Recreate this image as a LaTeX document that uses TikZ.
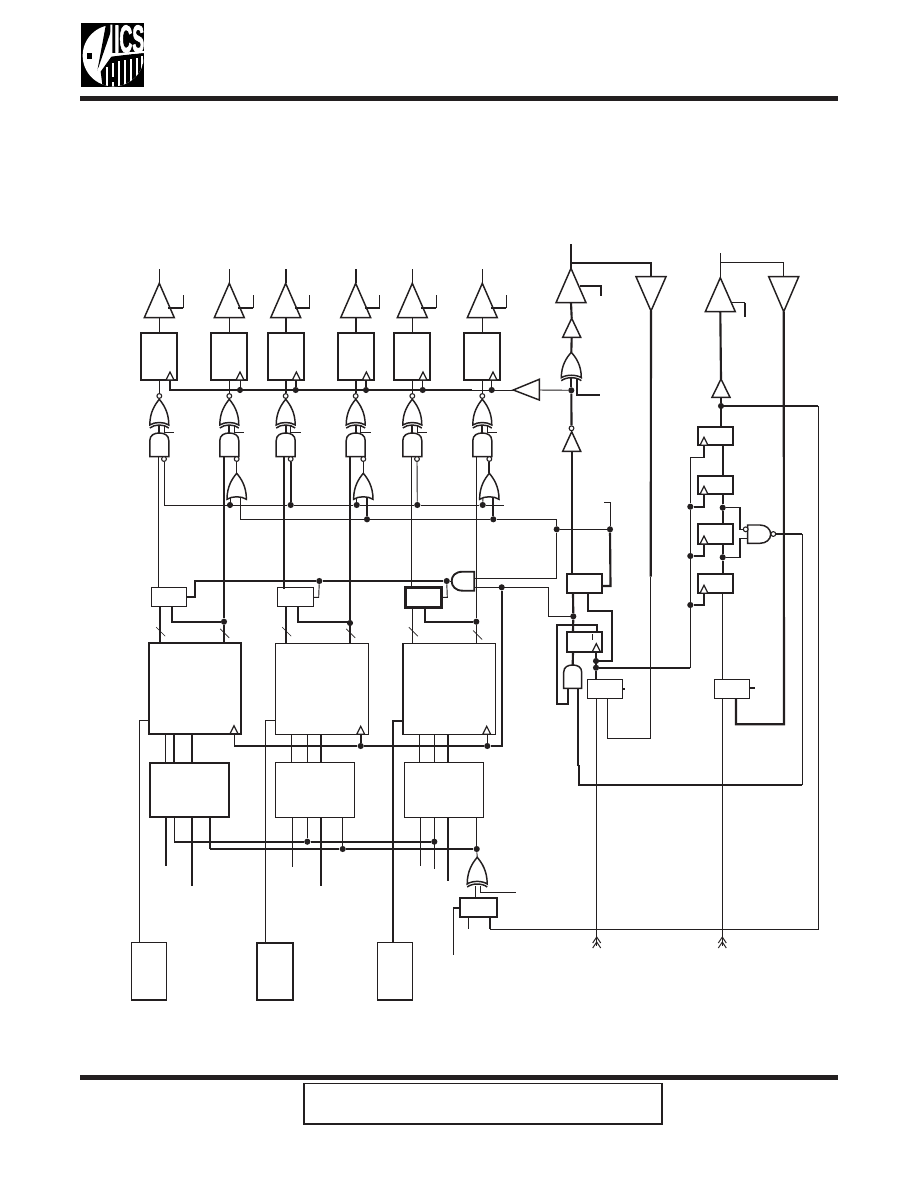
\documentclass[tikz,border=0pt]{standalone}
\usepackage{fontspec}
\setmainfont{Liberation Sans}
\newfontfamily\icsf[FakeBold=2.5]{Liberation Sans Bold}
\definecolor{ink}{HTML}{231F20}
\tikzset{
  thn/.style={line width=0.7pt,draw=ink},
  med/.style={line width=1.1pt,draw=ink},
  mdk/.style={line width=1.35pt,draw=ink},
  thk/.style={line width=1.6pt,draw=ink},
  gate/.style={line width=1.1pt,draw=ink,fill=white,line join=miter},
  boxn/.style={rectangle,inner sep=0pt,outer sep=0pt,fill=white,draw=ink},
  bub/.style={circle,draw=ink,fill=white,line width=0.8pt,inner sep=0pt,minimum size=3.6pt},
  jdot/.style={circle,fill=ink,inner sep=0pt,minimum size=4.6pt},
}
% box by corners in px
\newcommand\bx[6]{\node[boxn,#6,minimum width={((#4)-(#2))*0.75pt},minimum height={((#5)-(#3))*0.75pt}] (#1) at ({((#2)+(#4))/2},{((#3)+(#5))/2}) {};}
\newcommand\jn[3]{\node[jdot] (#1) at (#2,#3) {};}
\newcommand\tri[5]{\draw[gate] (#2,#3) -- ({#2+#5},#4) -- ({#2-#5},#4) -- cycle;
  \coordinate (#1a) at (#2,#3); \coordinate (#1b) at (#2,#4);}
\newcommand\ckt[2]{\draw[thn,fill=white,line join=miter,line width=0.9pt] (#1,{#2-8}) -- ({#1+4},#2) -- ({#1-4},#2) -- cycle;}
\newcommand\orup[5]{\draw[gate] (#2,#3) .. controls ({#2+.45*#5},{#3+.2*(#4-#3)}) and ({#2+#5},{#3+.5*(#4-#3)}) .. ({#2+#5},#4)
   .. controls ({#2+.5*#5},{#4-.13*(#4-#3)}) and ({#2-.5*#5},{#4-.13*(#4-#3)}) .. ({#2-#5},#4)
   .. controls ({#2-#5},{#3+.5*(#4-#3)}) and ({#2-.45*#5},{#3+.2*(#4-#3)}) .. cycle;
   \coordinate (#1t) at (#2,#3);}
\newcommand\xorup[5]{\orup{#1}{#2}{#3}{#4}{#5}
   \draw[gate,fill=none] ({#2+#5},{#4+3}) .. controls ({#2+.5*#5},{#4-1}) and ({#2-.5*#5},{#4-1}) .. ({#2-#5},{#4+3});}
\newcommand\andup[5]{\draw[gate] ({#2-#5},#4) -- ({#2-#5},{#3+#5*.8}) .. controls ({#2-#5},{#3+#5*.2}) and ({#2-#5*.5},#3) .. (#2,#3)
   .. controls ({#2+#5*.5},#3) and ({#2+#5},{#3+#5*.2}) .. ({#2+#5},{#3+#5*.8}) -- ({#2+#5},#4) -- cycle;
   \coordinate (#1t) at (#2,#3);}
\newcommand\chev[2]{\draw[thn] ({#1-4},{#2+6}) -- (#1,#2) -- ({#1+4},{#2+6}) ({#1-4},{#2+11}) -- (#1,{#2+5}) -- ({#1+4},{#2+11});}
\begin{document}
\begin{tikzpicture}[x=0.75pt,y=-0.75pt]
\useasboundingbox (0,0) rectangle (918,1188);
\fill[white] (0,0) rectangle (918,1188);

% ---------- header and footer
\fill[ink] (80,96) rectangle (838,101);
\fill[ink] (80,1075) rectangle (838,1079.5);
\bx{foot}{304}{1083.5}{662}{1124}{line width=1.2pt}

% ---------- logo
\begin{scope}[shift={(70,10)},x=0.25pt,y=-0.25pt]
  \fill[black] (33,40) rectangle (222,232);
  \fill[white] (130,137) circle (92);
  \fill[black] (122,40) rectangle (222,130);
  \fill[black] (108,42) -- (124,42) -- (124,60) -- (82,182) -- cycle;
  \fill[black] (50,128) rectangle (66,146);
  \begin{scope}
    \clip (130,137) circle (92);
    \fill[black] (124,140) -- (222,128) -- (222,232) -- (98,232) -- (92,185) -- cycle;
    \foreach \sx/\st in {110/172,128/158,146/152,164/150,182/147,200/143,216/138}
      \fill[white] ({\sx-3},\st) rectangle ({\sx+3},232);
    \fill[black] (122,200) rectangle (137,215);
  \end{scope}
  \draw[white,line width=1.5pt] (124,44) -- (124,134) -- (84,180);
  \draw[white,line width=1.5pt] (124,134) -- (222,126);
  \node[white,inner sep=0pt,xscale=.46] (ics) at (178,87) {\fontsize{29}{29}\selectfont\icsf ICS};
\end{scope}

% ---------- six output columns
\foreach \i/\c/\w/\bw in {1/159.3/thn/thk,2/229.3/thn/thk,3/285.7/thk/thk,4/355.7/thk/mdk,5/412.3/thn/thk,6/482.3/thn/thk}{
  \tri{ob\i}{\c}{283.3}{317.7}{15}
  \draw[\w] (\c,269) -- (ob\i a);
  \draw[thk] ({\c+9},308.3) -- ({\c+24},308.3);
  \draw[thn] ({\c+24},308.3) -- ({\c+24},295);
  \bx{q\i}{\c-18}{332.7}{\c+18}{380}{\bw}
  \draw[\w] (ob\i b) -- (q\i.north);
  \ckt{\c+10.7}{380}
  \node[bub] (nb\i) at (\c,396) {};
  \draw[\w] (q\i.south) -- (nb\i.north);
  \xorup{xn\i}{\c}{399.3}{425}{9.5}
  \draw[thn] (nb\i.south) -- (xn\i t);
  \andup{an\i}{\c}{433}{456.7}{9.5}
  \draw[thk] (\c,425) -- (an\i t);
  \draw[thn] ({\c+5},426) -- ({\c+5},432) -- ({\c+15},432);
}
% clock bus
\jn{ck2}{240}{390}\jn{ck3}{295.7}{390}\jn{ck4}{366}{390}\jn{ck5}{422.7}{390}\jn{ck6}{491.7}{390}
\coordinate (ckb) at (513.3,390);
\draw[thk] (170,380) -- (170,390) -- (472,390);
\draw[thn] (472,390) -- (ckb);
\draw[thn] (ck2) -- (240,380);
\foreach \i in {3,4}{\draw[thk] (ck\i) -- +(0,-10);}
\draw[thn] (ck5) -- +(0,-10);
\draw[thn] (ck6) -- +(0,-10);

% inverted-input bubbles and enable busses
\node[bub] (ib1) at (164,459) {};
\node[bub] (ib2) at (236.7,459) {};
\node[bub] (ib3) at (290.7,459) {};
\node[bub] (ib4) at (363.3,459) {};
\node[bub] (ib5) at (417,459) {};
\node[bub] (ib6) at (489.3,459) {};
\orup{og2}{236.7}{473.3}{499.3}{9.7}
\orup{og4}{363.3}{473.3}{499.3}{9.7}
\orup{og6}{489.3}{473.3}{499.3}{9.7}
\draw[thn] (ib2.south) -- (og2t);
\draw[thn] (ib4.south) -- (og4t);
\draw[thk] (ib6.south) -- (og6t);
\jn{a1}{230}{505}\jn{a2}{290.7}{505}\jn{a3}{356.7}{505}\jn{a4}{417.3}{505}\jn{a5}{482.7}{505}
\jn{b1}{367}{519.3}\jn{b2}{493.3}{519.3}
\draw[thn] (ib1.south) -- (164,505) -- (a1);
\draw[thn] (a1) -- (a2) -- (a3) -- (a4) -- (a5) -- (504,505);
\draw[thn] (a1) -- (230,497.5);
\draw[thk] (a2) -- (ib3.south);
\draw[thn] (a3) -- (356.7,497.5);
\draw[thn] (a4) -- (ib5.south);
\draw[thn] (a5) -- (483,497.5);
\coordinate (bl) at (556.7,519.3);
\draw[thn] (240,497.5) -- (240,519.3) -- (b1) -- (b2) -- (bl);
\draw[thk] (b1) -- (367,497.5);
\draw[thk] (b2) -- (493.3,497.5);

% ---------- registers above memories
\bx{r1}{151.7}{587.3}{186.7}{606.7}{med}
\bx{r2}{277.3}{587.3}{313.3}{606.7}{med}
\bx{r3}{405.7}{587.7}{441.3}{607.3}{line width=1.9pt}
% memories
\bx{m1}{148.7}{642.7}{241.3}{733.7}{thk}
\bx{m2}{275.7}{643.3}{368.7}{734.3}{med}
\bx{m3}{403}{643.3}{495.7}{734.3}{med}
% lower boxes
\bx{l1}{149.7}{762.7}{229.3}{817.3}{thk}
\bx{l2}{275.3}{762.7}{354.7}{817.3}{med}
\bx{l3}{404.3}{762.7}{483.7}{817.3}{med}
% bottom boxes
\bx{p1}{131.3}{942.7}{166.7}{1000}{med}
\bx{p2}{257.3}{942.7}{293.3}{1000}{mdk}
\bx{p3}{377.3}{942.7}{412.7}{1000}{med}

% column data lines
\jn{d1}{224}{621.7}\jn{d2}{350}{623}\jn{d3}{476.3}{621.7}
\draw[thn] (158.3,456.7) -- (r1.north -| 158.3,0);
\draw[thk] (224,456.7) -- (d1) -- (m1.north -| 224,0);
\draw[thk] (284,456.7) -- (284,589);
\draw[thk] (350,456.7) -- (d2) -- (m2.north -| 350,0);
\draw[thn] (411.3,456.7) -- (r3.north -| 411.3,0);
\draw[thn] (476.3,456.7) -- (d3) -- (m3.north -| 476.3,0);
\draw[thk] (r1.south -| 160,0) -- (m1.north -| 160,0);
\draw[thk] (r1.south -| 172,0) -- (172,621.7) -- (d1);
\draw[thk] (r2.south -| 286,0) -- (m2.north -| 286,0);
\draw[thk] (r2.south -| 298.3,0) -- (298.3,621.7) -- (350,621.7);
\draw[thn] (r3.south -| 412.7,0) -- (m3.north -| 412.7,0);
\draw[thk] (r3.south -| 424.7,0) -- (424.7,621.7) -- (d3);
% bus-width slashes
\foreach \sx/\sy in {160.7/631.7,224.7/633.3,286.7/631.7,350.7/633.3,413.3/631.7,477.7/635}
  \draw[line width=0.5pt,draw=ink] ({\sx-4.5},{\sy-4.5}) -- ({\sx+4.5},{\sy+4.5});

% AND gate joining the registers
\draw[line width=1.4pt,draw=ink,fill=white] (474.3,571.7) -- (474.3,590.7) -- (463,590.7) .. controls (455,590.7) and (451.7,586) .. (451.7,581) .. controls (451.7,576) and (455,571.7) .. (463,571.7) -- cycle;
\coordinate (ago) at (474.3,578.3);
\coordinate (agc) at (474.3,587.3);
\jn{ag1}{446.7}{581}\jn{ag2}{319.3}{581}
\draw[thk] (r1.east |- 0,597.3) -- (195,597.3) -- (195,581) -- (ag2) -- (ag1);
\draw[thn] (ag1) -- (451.7,581);
\draw[thn] (r2.east |- 0,597.3) -- (318.7,597.3) -- (ag2);
\draw[thn] (r3.east |- 0,597.3) -- (447.3,597.3) -- (ag1);
% clock distribution
\jn{mc}{501.7}{587.3}\jn{mk2}{360.7}{746}\jn{mk3}{487.3}{746}
\draw[thn] (agc) -- (mc);
\draw[thk] (mc) -- (501.7,746) -- (mk3) -- (mk2) -- (234.3,746);
\draw[thn] (234.3,746) -- (m1.south -| 234.3,0);
\draw[thk] (mk2) -- (m2.south -| 360.7,0);
\draw[thn] (mk3) -- (m3.south -| 487.3,0);
\ckt{234}{733.7}\ckt{360.7}{734.3}\ckt{486.7}{734.3}
% memory side lines
\draw[thn] (m1.west |- 0,720.7) -- (139.3,720.7) -- (p1.north -| 139.3,0);
\draw[thn] (m2.west |- 0,720.7) -- (265.3,720.7) -- (p2.north -| 265.3,0);
\draw[thk] (m3.west |- 0,720.7) -- (392.7,720.7) -- (p3.north -| 392.7,0);
% memory to lower box
\foreach \sx/\st/\m/\l in {165.7/thn/m1/l1,174/thk/m1/l1,192/thk/m1/l1,291.7/thn/m2/l2,307.3/thn/m2/l2,321/thk/m2/l2,419.3/thn/m3/l3,434.3/thn/m3/l3,448/thk/m3/l3}
  \draw[\st] (\m.south -| \sx,0) -- (\l.north -| \sx,0);
% below lower boxes
\jn{e1}{307.3}{841.7}\jn{e2}{434.3}{841.7}\jn{h3}{342.7}{849}\jn{h4}{476.7}{849}
\draw[thk] (l1.south -| 166,0) -- (166,865.7);
\draw[thk] (l1.south -| 192,0) -- (192,885.7);
\draw[thn] (l1.south -| 174.3,0) -- (174.3,841.7);
\draw[thk] (174.3,841.7) -- (e1) -- (e2);
\draw[med] (l1.south -| 210,0) -- (210,849);
\draw[thk] (210,849) -- (h3) -- (h4);
\draw[thn] (l2.south -| 292.3,0) -- (292.3,866.7);
\draw[thn] (l2.south -| 307.3,0) -- (e1);
\draw[thk] (l2.south -| 321,0) -- (321,885.7);
\draw[thn] (l2.south -| 342.7,0) -- (h3);
\draw[thn] (l3.south -| 420.3,0) -- (420.3,865.7);
\draw[thn] (l3.south -| 434.3,0) -- (434.3,869.3);
\draw[thk] (l3.south -| 448,0) -- (448,880.7);
\draw[thn] (l3.south -| 476.7,0) -- (h4);
% parity gate
\xorup{px}{477.2}{857.3}{884}{10}
\draw[thn] (h4) -- (pxt);
\bx{pr}{460.3}{898.3}{496.7}{917.3}{line width=1.3pt}
\draw[thn] (475.7,886) -- (pr.north -| 475.7,0);
\draw[thn] (480.7,886) -- (480.7,892.3) -- (516,892.3);
\draw[thk] (pr.west |- 0,907.7) -- (453.3,907.7);
\draw[thn] (453.3,907.7) -- (453.3,954.7);
\draw[thn] (pr.south -| 468.3,0) -- (468.3,928.7);
\coordinate (clkin) at (818.3,929.3);
\draw[thk] (pr.south -| 490,0) -- (490,929.3);
\draw[thn] (490,929.3) -- (clkin) -- (818.3,406);

% ---------- right-hand part, middle column
\tri{o7}{571}{268.3}{302.7}{15}
\draw[thk] (571,244) -- (o7a);
\tri{i7}{651}{311}{276.7}{15}
\draw[thk] (571,262.7) -- (651,262.7) -- (i7b);
\draw[thk] (580,286) -- (601,286) -- (601,296);
\tri{s7}{571.7}{318.3}{337.3}{9}
\draw[thk] (o7b) -- (s7a);
\xorup{x7}{571.3}{352.3}{377.7}{10}
\draw[thk] (s7b) -- (x7t);
\jn{xd}{571.3}{390.3}
\draw[thk] (571.3,378) -- (xd);
\draw[thk] (577,379) -- (577,395) -- (600,395);
\draw[gate] (513.3,390) -- (539.3,379.3) -- (539.3,400) -- cycle;
\draw[thn] (539.3,390) -- (xd);
\node[bub] (n7) at (571.5,428.3) {};
\draw[thk] (xd) -- (n7.north);
\tri{t7}{571.7}{431.7}{451.3}{9}
\jn{g1}{556.7}{529.3}\jn{g2}{610}{529.3}
\draw[thn] (bl) -- (g1) -- (g2);
\draw[thn] (604,502) -- (610,502) -- (g2);
\bx{ra}{566.7}{574.3}{602.3}{593.3}{thk}
\bx{rb}{566.7}{631.7}{602.3}{651.7}{thk}
\bx{rc}{587.3}{679.3}{622.7}{698.7}{med}
\bx{rd}{714.3}{679.3}{749.7}{698.7}{med}
\draw[thk] (t7b) -- (ra.north -| 571.7,0);
\draw[thn] (g1) -- (556.7,578.3) -- (ago);
\draw[thk] (g2) -- (610.5,586) -- (ra.east |- 0,586);
\draw[thn] (agc) -- (548.3,587.3) -- (548.3,616.3) -- (573.3,616.3);
\jn{sd}{573.3}{616.3}
\draw[thk] (ra.south -| 573,0) -- (sd) -- (rb.north -| 573,0);
\jn{h1}{596}{661}\jn{h2}{596}{667.7}
\draw[thk] (ra.south -| 588,0) -- (588,611.3) -- (612.3,611.3) -- (612.3,661) -- (h1);
\draw[thk] (rb.north -| 596.7,0) -- (596.7,625) -- (557,625) -- (557,704) -- (568.3,704) -- (568.3,688.3);
\draw[thn] (592.3,634) -- (592.3,640);
\ckt{596.3}{651.7}
\andup{ak}{572.7}{665}{688.3}{9}
\draw[thk] (rb.south -| 573,0) -- (akt);
\draw[thk] (596,651.7) -- (h1) -- (h2) -- (rc.north -| 596,0);
\draw[thk] (h2) -- (690.3,667.7);
\draw[thk] (577.7,688.3) -- (577.7,765.7);
\draw[thk] (578.7,765) -- (578.7,785) -- (802.3,785);
\draw[med] (802.3,785) -- (802.3,534);
\draw[thk] (802.3,534) -- (773.3,534);
\draw[thk] (rc.east |- 0,689) -- (625,689);
\draw[thk] (rd.east |- 0,688) -- (755,688);
\draw[thn] (rc.south -| 607.3,0) -- (607.3,738.3) -- (650.7,738.3);
\draw[thk] (i7a) -- (650.7,576.7);
\draw[thn] (650.7,576.7) -- (650.7,738.3);
\coordinate (ar1) at (596.7,946);\coordinate (ar2) at (722.3,946);
\draw[thn] (rc.south -| 596.7,0) -- (ar1);
\chev{596.7}{937}

% ---------- right-hand column
\tri{o8}{720.3}{277.7}{311.7}{15}
\draw[thn] (720.3,253.3) -- (o8a);
\tri{i8}{783.7}{311.7}{276.7}{15}
\draw[med] (720.3,262.7) -- (783.7,262.7);
\draw[thn] (783.7,262.7) -- (i8b);
\draw[thn] (731.7,302.7) -- (745,302.7);
\draw[thk] (745,302.7) -- (745,316.7);
\tri{s8}{721}{379}{397.3}{9}
\draw[thk] (o8b) -- (s8a);
\jn{k1}{721}{406}
\draw[thk] (s8b) -- (k1);
\draw[thk] (k1) -- (818.3,406);
\bx{f1}{697.7}{426.7}{733.3}{445.3}{thk}
\bx{f2}{697.7}{475.7}{733.3}{494.3}{thk}
\bx{f3}{697.7}{524.3}{733.3}{544}{thk}
\bx{f4}{697.7}{573.7}{733.3}{593.3}{thk}
\draw[thk] (k1) -- (f1.north -| 721,0);
\jn{n1}{722.7}{507.7}\jn{n2}{722.7}{557.3}
\draw[thk] (f1.south -| 722.7,0) -- (f2.north -| 722.7,0);
\draw[thk] (f2.south -| 722.7,0) -- (n1) -- (f3.north -| 722.7,0);
\draw[thk] (f3.south -| 722.7,0) -- (n2) -- (f4.north -| 722.7,0);
\draw[thn] (f4.south -| 722.3,0) -- (rd.north -| 722.3,0);
\draw[thn] (rd.south -| 722.3,0) -- (ar2);
\chev{722.3}{937}
\jn{c1}{690.3}{506.7}\jn{c2}{690.3}{556}\jn{c3}{690.3}{605}
\draw[thn] (704,445.3) -- (704,457.3) -- (690.3,457.3) -- (c1) -- (c2) -- (c3);
\draw[thn] (c3) -- (690.3,667.7);
\draw[thk] (c1) -- (704,506.7) -- (f2.south -| 704,0);
\draw[thk] (c2) -- (704,556) -- (f3.south -| 704,0);
\draw[thk] (c3) -- (704,605) -- (f4.south -| 704,0);
\draw[thk] (704,445.3) -- (704,457.3);
\ckt{704}{445.3}\ckt{704}{494.3}\ckt{704}{544}\ckt{704}{593.3}
% NAND
\draw[gate] (747.7,525) -- (760,525) .. controls (766,525) and (770.7,529) .. (770.7,534.2) .. controls (770.7,539.5) and (766,543.3) .. (760,543.3) -- (747.7,543.3) -- cycle;
\node[bub] (nb) at (745.7,529.3) {};
\node[bub] (no) at (773.3,534) {};
\draw[med] (n1) -- (740,507.7) -- (740,529.3) -- (nb.west);
\draw[med] (n2) -- (740,557.3) -- (740,538.3) -- (747.7,538.3);
\draw[thk] (i8a) -- (784,724.3) -- (736,724.3) -- (rd.south -| 736,0);
\end{tikzpicture}
\end{document}
